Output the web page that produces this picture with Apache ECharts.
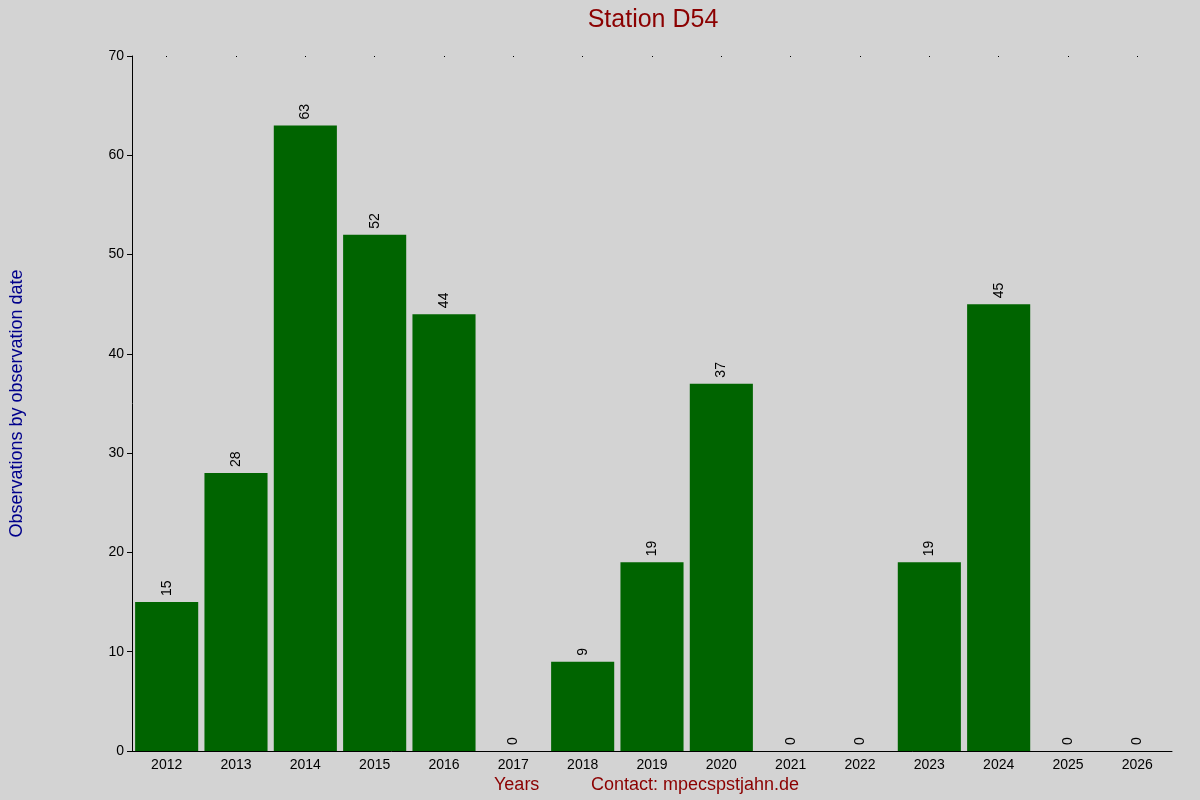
<!DOCTYPE html>
<html>
<head>
<meta charset="UTF-8">
<script src="https://cdn.jsdelivr.net/npm/echarts@6/dist/echarts.min.js"></script>
<style>
  body { margin: 0; background: #d3d3d3; }
  #chart { width: 1200px; height: 800px; }
</style>
</head>
<body>
<div id="chart"></div>
<script>
const years = ['2012', '2013', '2014', '2015', '2016', '2017', '2018', '2019', '2020', '2021', '2022', '2023', '2024', '2025', '2026'];
const counts = [15, 28, 63, 52, 44, 0, 9, 19, 37, 0, 0, 19, 45, 0, 0];
const yTicks = [0, 10, 20, 30, 40, 50, 60, 70];

const font = 'Liberation Sans, Arial, sans-serif';
const chart = echarts.init(document.getElementById('chart'));
chart.setOption({
    backgroundColor: '#d3d3d3',
    animation: false,
    title: {
        text: 'Station D54',
        left: 648,
        textAlign: 'center',
        top: 3,
        textStyle: { color: '#8b0000', fontSize: 25, fontWeight: 'normal', fontFamily: font }
    },
    grid: { left: 126, right: 28, top: 56, bottom: 49 },
    xAxis: [{
        type: 'category',
        data: years,
        axisLine: { lineStyle: { color: '#000' } },
        axisTick: { show: false },
        axisLabel: { color: '#000', fontSize: 14, fontFamily: font, margin: 7 }
    }, {
        type: 'category',
        data: years,
        position: 'top',
        axisLine: { show: false },
        axisTick: { show: true, alignWithLabel: true, length: -1, lineStyle: { color: '#000' } },
        axisLabel: { show: false }
    }],
    yAxis: {
        type: 'value',
        min: yTicks[0],
        max: yTicks[yTicks.length - 1],
        interval: 10,
        name: 'Observations by observation date',
        nameLocation: 'middle',
        nameGap: 106,
        nameTextStyle: { color: '#00008b', fontSize: 18, fontFamily: font },
        axisLine: { show: true, lineStyle: { color: '#000' } },
        axisTick: { show: true, length: 5, lineStyle: { color: '#000' } },
        axisLabel: { color: '#000', fontSize: 14, fontFamily: font, margin: 8 },
        splitLine: { show: false }
    },
    series: [{
        type: 'bar',
        data: counts,
        barWidth: '91%',
        itemStyle: { color: '#006400' },
        label: {
            show: true,
            position: 'top',
            rotate: 90,
            align: 'left',
            verticalAlign: 'middle',
            distance: 6,
            color: '#000',
            fontSize: 14,
            fontFamily: font
        }
    }],
    graphic: [{
        type: 'text', left: 494, top: 776,
        style: { text: 'Years', fill: '#8b0000', font: '18px ' + font }
    }, {
        type: 'text', left: 591, top: 776,
        style: { text: 'Contact: mpecspstjahn.de', fill: '#8b0000', font: '18px ' + font }
    }]
});
</script>
</body>
</html>
